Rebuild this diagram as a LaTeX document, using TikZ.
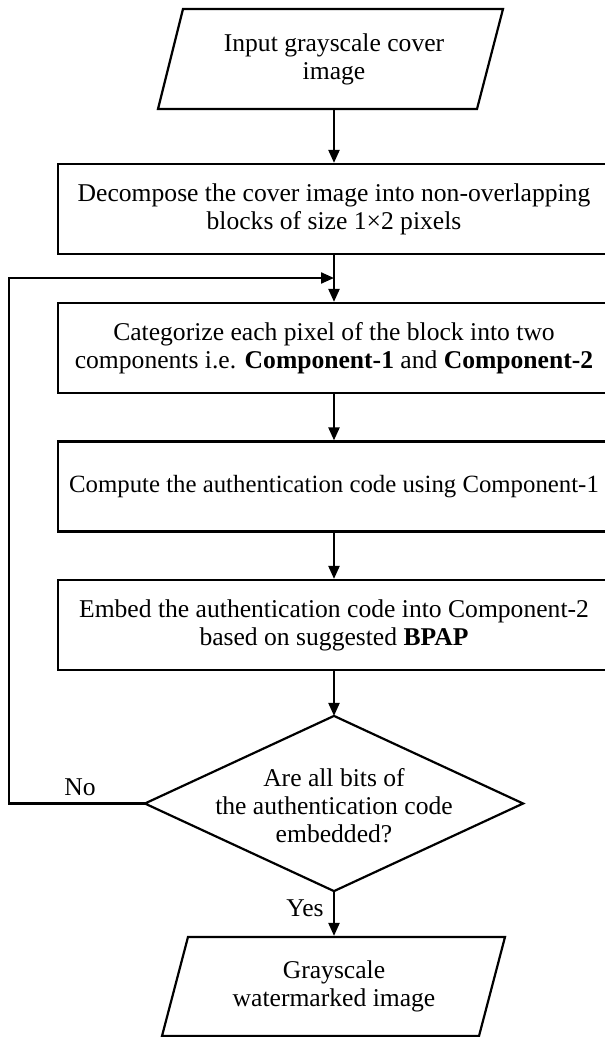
\documentclass[tikz,border=0pt]{standalone}
\usepackage{fontspec}
\setmainfont{Liberation Serif}
\usetikzlibrary{arrows.meta}
\begin{document}
\begin{tikzpicture}[x=1pt,y=-1pt,
  line width=2.2pt,
  txt/.style={align=center,font=\fontsize{25.6}{28}\selectfont,inner sep=0pt},
  procbox/.style={draw,minimum width=552pt,minimum height=90pt,inner sep=0pt,align=center,font=\fontsize{25.6}{28}\selectfont},
  arr/.style={-{Triangle[length=13pt,width=11pt]}},
  lbl/.style={font=\fontsize{25.6}{28}\selectfont,inner sep=0pt}]
\useasboundingbox (0,0) rectangle (605,1037);
\clip (0,0) rectangle (605,1037);
% input parallelogram
\draw (183,9) -- (503,9) -- (477,109) -- (158,109) -- cycle;
\node[txt,minimum width=300pt,minimum height=100pt] (in) at (334,59) {Input grayscale cover\\image};
% process boxes
\node[procbox] (b2) at (334,209) {Decompose the cover image into non-overlapping\\blocks of size 1\texttimes2 pixels};
\node[procbox] (b3) at (334,348) {Categorize each pixel of the block into two\\components i.e. \textbf{Component-1} and \textbf{Component-2}};
\node[procbox,font=\fontsize{24.8}{28}\selectfont] (b4) at (334,486.5) {Compute the authentication code using Component-1};
\node[procbox] (b5) at (334,625) {Embed the authentication code into Component-2\\based on suggested \textbf{BPAP}};
% decision
\node[minimum width=376pt,minimum height=173pt,inner sep=0pt] (d) at (334,803.5) {};
\draw (d.north) -- (d.east) -- (d.south) -- (d.west) -- cycle;
\node[txt] (dt) at (334,806) {Are all bits of\\the authentication code\\embedded?};
% output parallelogram
\draw (188,937) -- (505,937) -- (479,1036) -- (162,1036) -- cycle;
\node[txt,minimum width=300pt,minimum height=99pt] (out) at (334,986.5) {Grayscale\\watermarked image};
% connectors
\coordinate (j) at (334,278);
\draw[arr] (in.south) -- (b2.north);
\draw[arr] (b2.south) -- (b3.north);
\draw[arr] (b3.south) -- (b4.north);
\draw[arr] (b4.south) -- (b5.north);
\draw[arr] (b5.south) -- (d.north);
\draw[arr] (d.south) -- (out.north);
\draw[arr] (d.west) -- (9,803.5) -- (9,278) -- (j);
\node[lbl] at (80,787) {No};
\node[lbl] at (305,908) {Yes};
\end{tikzpicture}
\end{document}
